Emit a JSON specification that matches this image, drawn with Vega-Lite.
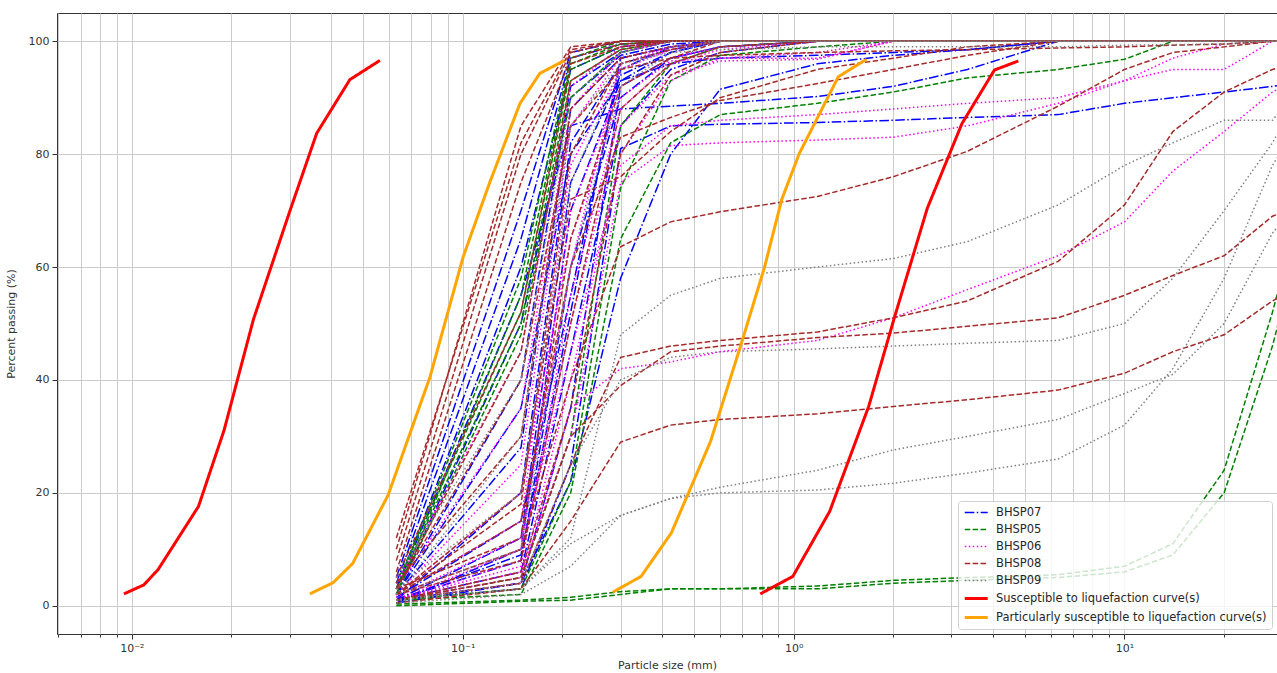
{
"$schema": "https://vega.github.io/schema/vega-lite/v6.json",
"width": 1220, "height": 621,
"autosize": {"type": "none"},
"padding": {"left": 57, "top": 13, "right": 0, "bottom": 39},
"background": "white",
"config": {
 "view": {"stroke": "#333333", "strokeWidth": 1},
 "axis": {"domain": false, "grid": true, "gridColor": "#cccccc", "gridWidth": 1, "tickColor": "#333333", "labelFont": "DejaVu Sans", "labelFontSize": 11, "labelColor": "#333333", "titleFont": "DejaVu Sans", "titleFontSize": 11, "titleFontWeight": "normal", "titleColor": "#333333"},
 "legend": {"orient": "bottom-right", "offset": 5, "fillColor": "rgba(255,255,255,0.8)", "strokeColor": "#d0d0d0", "cornerRadius": 3, "padding": 5, "labelFont": "DejaVu Sans", "labelFontSize": 11.5, "labelColor": "#262626", "labelLimit": 400, "rowPadding": 5}
},
"datasets": {
"samples": [
{"s":"b1","g":"BHSP07","x":0.063,"y":5},{"s":"b1","g":"BHSP07","x":0.15,"y":70},{"s":"b1","g":"BHSP07","x":0.212,"y":98},{"s":"b1","g":"BHSP07","x":0.3,"y":100},{"s":"b1","g":"BHSP07","x":37.5,"y":100},
{"s":"b2","g":"BHSP07","x":0.063,"y":4},{"s":"b2","g":"BHSP07","x":0.15,"y":65},{"s":"b2","g":"BHSP07","x":0.212,"y":97},{"s":"b2","g":"BHSP07","x":0.3,"y":99.5},{"s":"b2","g":"BHSP07","x":0.425,"y":100},{"s":"b2","g":"BHSP07","x":37.5,"y":100},
{"s":"b3","g":"BHSP07","x":0.063,"y":3},{"s":"b3","g":"BHSP07","x":0.15,"y":60},{"s":"b3","g":"BHSP07","x":0.212,"y":95},{"s":"b3","g":"BHSP07","x":0.3,"y":99},{"s":"b3","g":"BHSP07","x":0.425,"y":100},{"s":"b3","g":"BHSP07","x":37.5,"y":100},
{"s":"b4","g":"BHSP07","x":0.063,"y":2},{"s":"b4","g":"BHSP07","x":0.15,"y":40},{"s":"b4","g":"BHSP07","x":0.212,"y":92},{"s":"b4","g":"BHSP07","x":0.3,"y":98},{"s":"b4","g":"BHSP07","x":0.425,"y":100},{"s":"b4","g":"BHSP07","x":37.5,"y":100},
{"s":"b5","g":"BHSP07","x":0.063,"y":2},{"s":"b5","g":"BHSP07","x":0.15,"y":28},{"s":"b5","g":"BHSP07","x":0.212,"y":88},{"s":"b5","g":"BHSP07","x":0.3,"y":97},{"s":"b5","g":"BHSP07","x":0.425,"y":99},{"s":"b5","g":"BHSP07","x":0.6,"y":100},{"s":"b5","g":"BHSP07","x":37.5,"y":100},
{"s":"b6","g":"BHSP07","x":0.063,"y":1},{"s":"b6","g":"BHSP07","x":0.15,"y":20},{"s":"b6","g":"BHSP07","x":0.212,"y":82},{"s":"b6","g":"BHSP07","x":0.3,"y":96},{"s":"b6","g":"BHSP07","x":0.425,"y":98.5},{"s":"b6","g":"BHSP07","x":0.6,"y":100},{"s":"b6","g":"BHSP07","x":37.5,"y":100},
{"s":"b7","g":"BHSP07","x":0.063,"y":1},{"s":"b7","g":"BHSP07","x":0.15,"y":12},{"s":"b7","g":"BHSP07","x":0.212,"y":75},{"s":"b7","g":"BHSP07","x":0.3,"y":94},{"s":"b7","g":"BHSP07","x":0.425,"y":98},{"s":"b7","g":"BHSP07","x":0.6,"y":100},{"s":"b7","g":"BHSP07","x":37.5,"y":100},
{"s":"b8","g":"BHSP07","x":0.063,"y":1},{"s":"b8","g":"BHSP07","x":0.15,"y":8},{"s":"b8","g":"BHSP07","x":0.212,"y":60},{"s":"b8","g":"BHSP07","x":0.3,"y":90},{"s":"b8","g":"BHSP07","x":0.425,"y":97},{"s":"b8","g":"BHSP07","x":0.6,"y":99},{"s":"b8","g":"BHSP07","x":1.18,"y":100},{"s":"b8","g":"BHSP07","x":37.5,"y":100},
{"s":"b9","g":"BHSP07","x":0.063,"y":0.5},{"s":"b9","g":"BHSP07","x":0.15,"y":10},{"s":"b9","g":"BHSP07","x":0.212,"y":70},{"s":"b9","g":"BHSP07","x":0.3,"y":93},{"s":"b9","g":"BHSP07","x":0.425,"y":98},{"s":"b9","g":"BHSP07","x":0.6,"y":100},{"s":"b9","g":"BHSP07","x":37.5,"y":100},
{"s":"b10","g":"BHSP07","x":0.063,"y":1},{"s":"b10","g":"BHSP07","x":0.15,"y":6},{"s":"b10","g":"BHSP07","x":0.212,"y":45},{"s":"b10","g":"BHSP07","x":0.3,"y":85},{"s":"b10","g":"BHSP07","x":0.425,"y":95},{"s":"b10","g":"BHSP07","x":0.6,"y":98},{"s":"b10","g":"BHSP07","x":1.18,"y":100},{"s":"b10","g":"BHSP07","x":37.5,"y":100},
{"s":"b11","g":"BHSP07","x":0.063,"y":0.5},{"s":"b11","g":"BHSP07","x":0.15,"y":4},{"s":"b11","g":"BHSP07","x":0.212,"y":35},{"s":"b11","g":"BHSP07","x":0.3,"y":92},{"s":"b11","g":"BHSP07","x":0.425,"y":97},{"s":"b11","g":"BHSP07","x":0.6,"y":99},{"s":"b11","g":"BHSP07","x":1.18,"y":100},{"s":"b11","g":"BHSP07","x":37.5,"y":100},
{"s":"b12","g":"BHSP07","x":0.063,"y":1},{"s":"b12","g":"BHSP07","x":0.15,"y":3},{"s":"b12","g":"BHSP07","x":0.212,"y":25},{"s":"b12","g":"BHSP07","x":0.3,"y":81},{"s":"b12","g":"BHSP07","x":0.425,"y":85},{"s":"b12","g":"BHSP07","x":0.6,"y":85.3},{"s":"b12","g":"BHSP07","x":1.18,"y":85.6},{"s":"b12","g":"BHSP07","x":2,"y":86},{"s":"b12","g":"BHSP07","x":3.35,"y":86.5},{"s":"b12","g":"BHSP07","x":6.3,"y":87},{"s":"b12","g":"BHSP07","x":10,"y":89},{"s":"b12","g":"BHSP07","x":14,"y":90},{"s":"b12","g":"BHSP07","x":20,"y":91},{"s":"b12","g":"BHSP07","x":28,"y":92},{"s":"b12","g":"BHSP07","x":37.5,"y":93},
{"s":"b13","g":"BHSP07","x":0.063,"y":3},{"s":"b13","g":"BHSP07","x":0.15,"y":55},{"s":"b13","g":"BHSP07","x":0.212,"y":85},{"s":"b13","g":"BHSP07","x":0.3,"y":88},{"s":"b13","g":"BHSP07","x":0.425,"y":88.5},{"s":"b13","g":"BHSP07","x":0.6,"y":89},{"s":"b13","g":"BHSP07","x":1.18,"y":90.2},{"s":"b13","g":"BHSP07","x":2,"y":92},{"s":"b13","g":"BHSP07","x":3.35,"y":95},{"s":"b13","g":"BHSP07","x":6.3,"y":100},{"s":"b13","g":"BHSP07","x":37.5,"y":100},
{"s":"b14","g":"BHSP07","x":0.063,"y":1},{"s":"b14","g":"BHSP07","x":0.15,"y":4},{"s":"b14","g":"BHSP07","x":0.212,"y":22},{"s":"b14","g":"BHSP07","x":0.3,"y":58},{"s":"b14","g":"BHSP07","x":0.425,"y":80},{"s":"b14","g":"BHSP07","x":0.6,"y":91.5},{"s":"b14","g":"BHSP07","x":1.18,"y":96},{"s":"b14","g":"BHSP07","x":2,"y":97.5},{"s":"b14","g":"BHSP07","x":3.35,"y":98.5},{"s":"b14","g":"BHSP07","x":6.3,"y":100},{"s":"b14","g":"BHSP07","x":37.5,"y":100},
{"s":"b15","g":"BHSP07","x":0.063,"y":2},{"s":"b15","g":"BHSP07","x":0.15,"y":50},{"s":"b15","g":"BHSP07","x":0.212,"y":90},{"s":"b15","g":"BHSP07","x":0.3,"y":97.5},{"s":"b15","g":"BHSP07","x":0.425,"y":99.5},{"s":"b15","g":"BHSP07","x":0.6,"y":100},{"s":"b15","g":"BHSP07","x":37.5,"y":100},
{"s":"b16","g":"BHSP07","x":0.063,"y":1.5},{"s":"b16","g":"BHSP07","x":0.15,"y":15},{"s":"b16","g":"BHSP07","x":0.212,"y":55},{"s":"b16","g":"BHSP07","x":0.3,"y":95},{"s":"b16","g":"BHSP07","x":0.425,"y":99},{"s":"b16","g":"BHSP07","x":0.6,"y":100},{"s":"b16","g":"BHSP07","x":37.5,"y":100},
{"s":"b17","g":"BHSP07","x":0.063,"y":2},{"s":"b17","g":"BHSP07","x":0.15,"y":35},{"s":"b17","g":"BHSP07","x":0.212,"y":80},{"s":"b17","g":"BHSP07","x":0.3,"y":93},{"s":"b17","g":"BHSP07","x":0.425,"y":96},{"s":"b17","g":"BHSP07","x":0.6,"y":97},{"s":"b17","g":"BHSP07","x":1.18,"y":97.5},{"s":"b17","g":"BHSP07","x":2,"y":98},{"s":"b17","g":"BHSP07","x":3.35,"y":98.5},{"s":"b17","g":"BHSP07","x":6.3,"y":100},{"s":"b17","g":"BHSP07","x":37.5,"y":100},
{"s":"b18","g":"BHSP07","x":0.063,"y":1},{"s":"b18","g":"BHSP07","x":0.15,"y":9},{"s":"b18","g":"BHSP07","x":0.212,"y":52},{"s":"b18","g":"BHSP07","x":0.3,"y":97},{"s":"b18","g":"BHSP07","x":0.425,"y":99},{"s":"b18","g":"BHSP07","x":0.6,"y":100},{"s":"b18","g":"BHSP07","x":37.5,"y":100},
{"s":"g1","g":"BHSP05","x":0.063,"y":3},{"s":"g1","g":"BHSP05","x":0.15,"y":58},{"s":"g1","g":"BHSP05","x":0.212,"y":97},{"s":"g1","g":"BHSP05","x":0.3,"y":100},{"s":"g1","g":"BHSP05","x":37.5,"y":100},
{"s":"g2","g":"BHSP05","x":0.063,"y":2},{"s":"g2","g":"BHSP05","x":0.15,"y":55},{"s":"g2","g":"BHSP05","x":0.212,"y":96},{"s":"g2","g":"BHSP05","x":0.3,"y":99.5},{"s":"g2","g":"BHSP05","x":0.425,"y":100},{"s":"g2","g":"BHSP05","x":37.5,"y":100},
{"s":"g3","g":"BHSP05","x":0.063,"y":4},{"s":"g3","g":"BHSP05","x":0.15,"y":52},{"s":"g3","g":"BHSP05","x":0.212,"y":95},{"s":"g3","g":"BHSP05","x":0.3,"y":99},{"s":"g3","g":"BHSP05","x":0.425,"y":100},{"s":"g3","g":"BHSP05","x":37.5,"y":100},
{"s":"g4","g":"BHSP05","x":0.063,"y":3},{"s":"g4","g":"BHSP05","x":0.15,"y":50},{"s":"g4","g":"BHSP05","x":0.212,"y":93},{"s":"g4","g":"BHSP05","x":0.3,"y":98.5},{"s":"g4","g":"BHSP05","x":0.425,"y":100},{"s":"g4","g":"BHSP05","x":37.5,"y":100},
{"s":"g5","g":"BHSP05","x":0.063,"y":2},{"s":"g5","g":"BHSP05","x":0.15,"y":48},{"s":"g5","g":"BHSP05","x":0.212,"y":90},{"s":"g5","g":"BHSP05","x":0.3,"y":98},{"s":"g5","g":"BHSP05","x":0.425,"y":100},{"s":"g5","g":"BHSP05","x":37.5,"y":100},
{"s":"g6","g":"BHSP05","x":0.063,"y":1},{"s":"g6","g":"BHSP05","x":0.15,"y":5},{"s":"g6","g":"BHSP05","x":0.212,"y":30},{"s":"g6","g":"BHSP05","x":0.3,"y":85},{"s":"g6","g":"BHSP05","x":0.425,"y":96},{"s":"g6","g":"BHSP05","x":0.6,"y":99},{"s":"g6","g":"BHSP05","x":1.18,"y":100},{"s":"g6","g":"BHSP05","x":37.5,"y":100},
{"s":"g7","g":"BHSP05","x":0.063,"y":1},{"s":"g7","g":"BHSP05","x":0.15,"y":3},{"s":"g7","g":"BHSP05","x":0.212,"y":22},{"s":"g7","g":"BHSP05","x":0.3,"y":74},{"s":"g7","g":"BHSP05","x":0.425,"y":93},{"s":"g7","g":"BHSP05","x":0.6,"y":97.5},{"s":"g7","g":"BHSP05","x":1.18,"y":99},{"s":"g7","g":"BHSP05","x":2,"y":100},{"s":"g7","g":"BHSP05","x":37.5,"y":100},
{"s":"g8","g":"BHSP05","x":0.063,"y":1},{"s":"g8","g":"BHSP05","x":0.15,"y":2},{"s":"g8","g":"BHSP05","x":0.212,"y":20},{"s":"g8","g":"BHSP05","x":0.3,"y":65},{"s":"g8","g":"BHSP05","x":0.425,"y":82},{"s":"g8","g":"BHSP05","x":0.6,"y":87},{"s":"g8","g":"BHSP05","x":1.18,"y":89},{"s":"g8","g":"BHSP05","x":2,"y":91},{"s":"g8","g":"BHSP05","x":3.35,"y":93.5},{"s":"g8","g":"BHSP05","x":6.3,"y":95},{"s":"g8","g":"BHSP05","x":10,"y":96.8},{"s":"g8","g":"BHSP05","x":14,"y":100},{"s":"g8","g":"BHSP05","x":37.5,"y":100},
{"s":"g9","g":"BHSP05","x":0.063,"y":0.3},{"s":"g9","g":"BHSP05","x":0.15,"y":1},{"s":"g9","g":"BHSP05","x":0.212,"y":1.5},{"s":"g9","g":"BHSP05","x":0.3,"y":2.5},{"s":"g9","g":"BHSP05","x":0.425,"y":3},{"s":"g9","g":"BHSP05","x":0.6,"y":3},{"s":"g9","g":"BHSP05","x":1.18,"y":3.5},{"s":"g9","g":"BHSP05","x":2,"y":4.5},{"s":"g9","g":"BHSP05","x":3.35,"y":5},{"s":"g9","g":"BHSP05","x":6.3,"y":5.5},{"s":"g9","g":"BHSP05","x":10,"y":7},{"s":"g9","g":"BHSP05","x":14,"y":11},{"s":"g9","g":"BHSP05","x":20,"y":24},{"s":"g9","g":"BHSP05","x":28,"y":52},{"s":"g9","g":"BHSP05","x":37.5,"y":80},
{"s":"g10","g":"BHSP05","x":0.063,"y":0},{"s":"g10","g":"BHSP05","x":0.15,"y":0.8},{"s":"g10","g":"BHSP05","x":0.212,"y":1},{"s":"g10","g":"BHSP05","x":0.3,"y":2},{"s":"g10","g":"BHSP05","x":0.425,"y":3},{"s":"g10","g":"BHSP05","x":0.6,"y":3},{"s":"g10","g":"BHSP05","x":1.18,"y":3},{"s":"g10","g":"BHSP05","x":2,"y":4},{"s":"g10","g":"BHSP05","x":3.35,"y":4.5},{"s":"g10","g":"BHSP05","x":6.3,"y":5},{"s":"g10","g":"BHSP05","x":10,"y":6},{"s":"g10","g":"BHSP05","x":14,"y":9},{"s":"g10","g":"BHSP05","x":20,"y":20},{"s":"g10","g":"BHSP05","x":28,"y":46},{"s":"g10","g":"BHSP05","x":37.5,"y":75},
{"s":"m1","g":"BHSP06","x":0.063,"y":4},{"s":"m1","g":"BHSP06","x":0.15,"y":45},{"s":"m1","g":"BHSP06","x":0.212,"y":92},{"s":"m1","g":"BHSP06","x":0.3,"y":99},{"s":"m1","g":"BHSP06","x":0.425,"y":100},{"s":"m1","g":"BHSP06","x":37.5,"y":100},
{"s":"m2","g":"BHSP06","x":0.063,"y":3},{"s":"m2","g":"BHSP06","x":0.15,"y":35},{"s":"m2","g":"BHSP06","x":0.212,"y":88},{"s":"m2","g":"BHSP06","x":0.3,"y":98},{"s":"m2","g":"BHSP06","x":0.425,"y":100},{"s":"m2","g":"BHSP06","x":37.5,"y":100},
{"s":"m3","g":"BHSP06","x":0.063,"y":2},{"s":"m3","g":"BHSP06","x":0.15,"y":25},{"s":"m3","g":"BHSP06","x":0.212,"y":85},{"s":"m3","g":"BHSP06","x":0.3,"y":97},{"s":"m3","g":"BHSP06","x":0.425,"y":99},{"s":"m3","g":"BHSP06","x":0.6,"y":100},{"s":"m3","g":"BHSP06","x":37.5,"y":100},
{"s":"m4","g":"BHSP06","x":0.063,"y":2},{"s":"m4","g":"BHSP06","x":0.15,"y":15},{"s":"m4","g":"BHSP06","x":0.212,"y":78},{"s":"m4","g":"BHSP06","x":0.3,"y":95},{"s":"m4","g":"BHSP06","x":0.425,"y":98.5},{"s":"m4","g":"BHSP06","x":0.6,"y":100},{"s":"m4","g":"BHSP06","x":37.5,"y":100},
{"s":"m5","g":"BHSP06","x":0.063,"y":1},{"s":"m5","g":"BHSP06","x":0.15,"y":10},{"s":"m5","g":"BHSP06","x":0.212,"y":70},{"s":"m5","g":"BHSP06","x":0.3,"y":92},{"s":"m5","g":"BHSP06","x":0.425,"y":97},{"s":"m5","g":"BHSP06","x":0.6,"y":99},{"s":"m5","g":"BHSP06","x":1.18,"y":100},{"s":"m5","g":"BHSP06","x":37.5,"y":100},
{"s":"m6","g":"BHSP06","x":0.063,"y":1},{"s":"m6","g":"BHSP06","x":0.15,"y":7},{"s":"m6","g":"BHSP06","x":0.212,"y":55},{"s":"m6","g":"BHSP06","x":0.3,"y":88},{"s":"m6","g":"BHSP06","x":0.425,"y":96},{"s":"m6","g":"BHSP06","x":0.6,"y":98.5},{"s":"m6","g":"BHSP06","x":1.18,"y":100},{"s":"m6","g":"BHSP06","x":37.5,"y":100},
{"s":"m7","g":"BHSP06","x":0.063,"y":1},{"s":"m7","g":"BHSP06","x":0.15,"y":5},{"s":"m7","g":"BHSP06","x":0.212,"y":40},{"s":"m7","g":"BHSP06","x":0.3,"y":80},{"s":"m7","g":"BHSP06","x":0.425,"y":93},{"s":"m7","g":"BHSP06","x":0.6,"y":97},{"s":"m7","g":"BHSP06","x":1.18,"y":98},{"s":"m7","g":"BHSP06","x":2,"y":100},{"s":"m7","g":"BHSP06","x":37.5,"y":100},
{"s":"m8","g":"BHSP06","x":0.063,"y":2},{"s":"m8","g":"BHSP06","x":0.15,"y":20},{"s":"m8","g":"BHSP06","x":0.212,"y":65},{"s":"m8","g":"BHSP06","x":0.3,"y":90},{"s":"m8","g":"BHSP06","x":0.425,"y":96.5},{"s":"m8","g":"BHSP06","x":0.6,"y":97},{"s":"m8","g":"BHSP06","x":1.18,"y":97},{"s":"m8","g":"BHSP06","x":2,"y":100},{"s":"m8","g":"BHSP06","x":37.5,"y":100},
{"s":"m9","g":"BHSP06","x":0.063,"y":1},{"s":"m9","g":"BHSP06","x":0.15,"y":4},{"s":"m9","g":"BHSP06","x":0.212,"y":35},{"s":"m9","g":"BHSP06","x":0.3,"y":42},{"s":"m9","g":"BHSP06","x":0.425,"y":43.2},{"s":"m9","g":"BHSP06","x":0.6,"y":45},{"s":"m9","g":"BHSP06","x":1.18,"y":47},{"s":"m9","g":"BHSP06","x":2,"y":51},{"s":"m9","g":"BHSP06","x":3.35,"y":56},{"s":"m9","g":"BHSP06","x":6.3,"y":62},{"s":"m9","g":"BHSP06","x":10,"y":68},{"s":"m9","g":"BHSP06","x":14,"y":77},{"s":"m9","g":"BHSP06","x":20,"y":84},{"s":"m9","g":"BHSP06","x":28,"y":91},{"s":"m9","g":"BHSP06","x":37.5,"y":95},
{"s":"m10","g":"BHSP06","x":0.063,"y":1},{"s":"m10","g":"BHSP06","x":0.15,"y":6},{"s":"m10","g":"BHSP06","x":0.212,"y":30},{"s":"m10","g":"BHSP06","x":0.3,"y":75},{"s":"m10","g":"BHSP06","x":0.425,"y":81.5},{"s":"m10","g":"BHSP06","x":0.6,"y":82},{"s":"m10","g":"BHSP06","x":1.18,"y":82.5},{"s":"m10","g":"BHSP06","x":2,"y":83},{"s":"m10","g":"BHSP06","x":3.35,"y":85},{"s":"m10","g":"BHSP06","x":6.3,"y":89},{"s":"m10","g":"BHSP06","x":10,"y":93},{"s":"m10","g":"BHSP06","x":14,"y":97},{"s":"m10","g":"BHSP06","x":20,"y":99.5},{"s":"m10","g":"BHSP06","x":28,"y":100},{"s":"m10","g":"BHSP06","x":37.5,"y":100},
{"s":"m11","g":"BHSP06","x":0.063,"y":2},{"s":"m11","g":"BHSP06","x":0.15,"y":10},{"s":"m11","g":"BHSP06","x":0.212,"y":45},{"s":"m11","g":"BHSP06","x":0.3,"y":78},{"s":"m11","g":"BHSP06","x":0.425,"y":85},{"s":"m11","g":"BHSP06","x":0.6,"y":86},{"s":"m11","g":"BHSP06","x":1.18,"y":87},{"s":"m11","g":"BHSP06","x":2,"y":88},{"s":"m11","g":"BHSP06","x":3.35,"y":89},{"s":"m11","g":"BHSP06","x":6.3,"y":90},{"s":"m11","g":"BHSP06","x":10,"y":93},{"s":"m11","g":"BHSP06","x":14,"y":95},{"s":"m11","g":"BHSP06","x":20,"y":95},{"s":"m11","g":"BHSP06","x":28,"y":100},{"s":"m11","g":"BHSP06","x":37.5,"y":100},
{"s":"m12","g":"BHSP06","x":0.063,"y":1},{"s":"m12","g":"BHSP06","x":0.15,"y":8},{"s":"m12","g":"BHSP06","x":0.212,"y":50},{"s":"m12","g":"BHSP06","x":0.3,"y":85},{"s":"m12","g":"BHSP06","x":0.425,"y":94},{"s":"m12","g":"BHSP06","x":0.6,"y":96.5},{"s":"m12","g":"BHSP06","x":1.18,"y":96.8},{"s":"m12","g":"BHSP06","x":2,"y":100},{"s":"m12","g":"BHSP06","x":37.5,"y":100},
{"s":"m13","g":"BHSP06","x":0.063,"y":1.5},{"s":"m13","g":"BHSP06","x":0.15,"y":12},{"s":"m13","g":"BHSP06","x":0.212,"y":60},{"s":"m13","g":"BHSP06","x":0.3,"y":96},{"s":"m13","g":"BHSP06","x":0.425,"y":99},{"s":"m13","g":"BHSP06","x":0.6,"y":100},{"s":"m13","g":"BHSP06","x":37.5,"y":100},
{"s":"r1","g":"BHSP08","x":0.063,"y":10},{"s":"r1","g":"BHSP08","x":0.15,"y":85},{"s":"r1","g":"BHSP08","x":0.212,"y":99},{"s":"r1","g":"BHSP08","x":0.3,"y":100},{"s":"r1","g":"BHSP08","x":37.5,"y":100},
{"s":"r2","g":"BHSP08","x":0.063,"y":8},{"s":"r2","g":"BHSP08","x":0.15,"y":80},{"s":"r2","g":"BHSP08","x":0.212,"y":98},{"s":"r2","g":"BHSP08","x":0.3,"y":100},{"s":"r2","g":"BHSP08","x":37.5,"y":100},
{"s":"r3","g":"BHSP08","x":0.063,"y":6},{"s":"r3","g":"BHSP08","x":0.15,"y":75},{"s":"r3","g":"BHSP08","x":0.212,"y":97},{"s":"r3","g":"BHSP08","x":0.3,"y":99.5},{"s":"r3","g":"BHSP08","x":0.425,"y":100},{"s":"r3","g":"BHSP08","x":37.5,"y":100},
{"s":"r4","g":"BHSP08","x":0.063,"y":5},{"s":"r4","g":"BHSP08","x":0.15,"y":52},{"s":"r4","g":"BHSP08","x":0.212,"y":96},{"s":"r4","g":"BHSP08","x":0.3,"y":99},{"s":"r4","g":"BHSP08","x":0.425,"y":100},{"s":"r4","g":"BHSP08","x":37.5,"y":100},
{"s":"r5","g":"BHSP08","x":0.063,"y":3},{"s":"r5","g":"BHSP08","x":0.15,"y":45},{"s":"r5","g":"BHSP08","x":0.212,"y":93},{"s":"r5","g":"BHSP08","x":0.3,"y":98.5},{"s":"r5","g":"BHSP08","x":0.425,"y":100},{"s":"r5","g":"BHSP08","x":37.5,"y":100},
{"s":"r6","g":"BHSP08","x":0.063,"y":4},{"s":"r6","g":"BHSP08","x":0.15,"y":30},{"s":"r6","g":"BHSP08","x":0.212,"y":88},{"s":"r6","g":"BHSP08","x":0.3,"y":97},{"s":"r6","g":"BHSP08","x":0.425,"y":99},{"s":"r6","g":"BHSP08","x":0.6,"y":100},{"s":"r6","g":"BHSP08","x":37.5,"y":100},
{"s":"r7","g":"BHSP08","x":0.063,"y":2},{"s":"r7","g":"BHSP08","x":0.15,"y":18},{"s":"r7","g":"BHSP08","x":0.212,"y":80},{"s":"r7","g":"BHSP08","x":0.3,"y":96},{"s":"r7","g":"BHSP08","x":0.425,"y":98.5},{"s":"r7","g":"BHSP08","x":0.6,"y":100},{"s":"r7","g":"BHSP08","x":37.5,"y":100},
{"s":"r8","g":"BHSP08","x":0.063,"y":3},{"s":"r8","g":"BHSP08","x":0.15,"y":12},{"s":"r8","g":"BHSP08","x":0.212,"y":65},{"s":"r8","g":"BHSP08","x":0.3,"y":92},{"s":"r8","g":"BHSP08","x":0.425,"y":97},{"s":"r8","g":"BHSP08","x":0.6,"y":100},{"s":"r8","g":"BHSP08","x":37.5,"y":100},
{"s":"r9","g":"BHSP08","x":0.063,"y":2},{"s":"r9","g":"BHSP08","x":0.15,"y":8},{"s":"r9","g":"BHSP08","x":0.212,"y":50},{"s":"r9","g":"BHSP08","x":0.3,"y":88},{"s":"r9","g":"BHSP08","x":0.425,"y":96},{"s":"r9","g":"BHSP08","x":0.6,"y":99},{"s":"r9","g":"BHSP08","x":1.18,"y":100},{"s":"r9","g":"BHSP08","x":37.5,"y":100},
{"s":"r10","g":"BHSP08","x":0.063,"y":1},{"s":"r10","g":"BHSP08","x":0.15,"y":6},{"s":"r10","g":"BHSP08","x":0.212,"y":35},{"s":"r10","g":"BHSP08","x":0.3,"y":80},{"s":"r10","g":"BHSP08","x":0.425,"y":94},{"s":"r10","g":"BHSP08","x":0.6,"y":98},{"s":"r10","g":"BHSP08","x":1.18,"y":100},{"s":"r10","g":"BHSP08","x":37.5,"y":100},
{"s":"r11","g":"BHSP08","x":0.063,"y":2},{"s":"r11","g":"BHSP08","x":0.15,"y":15},{"s":"r11","g":"BHSP08","x":0.212,"y":60},{"s":"r11","g":"BHSP08","x":0.3,"y":83},{"s":"r11","g":"BHSP08","x":0.425,"y":86.5},{"s":"r11","g":"BHSP08","x":0.6,"y":89.5},{"s":"r11","g":"BHSP08","x":1.18,"y":92.5},{"s":"r11","g":"BHSP08","x":2,"y":95},{"s":"r11","g":"BHSP08","x":3.35,"y":97.5},{"s":"r11","g":"BHSP08","x":6.3,"y":100},{"s":"r11","g":"BHSP08","x":37.5,"y":100},
{"s":"r12","g":"BHSP08","x":0.063,"y":2},{"s":"r12","g":"BHSP08","x":0.15,"y":10},{"s":"r12","g":"BHSP08","x":0.212,"y":40},{"s":"r12","g":"BHSP08","x":0.3,"y":63.6},{"s":"r12","g":"BHSP08","x":0.425,"y":68},{"s":"r12","g":"BHSP08","x":0.6,"y":69.8},{"s":"r12","g":"BHSP08","x":1.18,"y":72.5},{"s":"r12","g":"BHSP08","x":2,"y":76},{"s":"r12","g":"BHSP08","x":3.35,"y":80.5},{"s":"r12","g":"BHSP08","x":6.3,"y":88.5},{"s":"r12","g":"BHSP08","x":10,"y":95},{"s":"r12","g":"BHSP08","x":14,"y":98},{"s":"r12","g":"BHSP08","x":20,"y":99},{"s":"r12","g":"BHSP08","x":28,"y":100},{"s":"r12","g":"BHSP08","x":37.5,"y":100},
{"s":"r13","g":"BHSP08","x":0.063,"y":1},{"s":"r13","g":"BHSP08","x":0.15,"y":4},{"s":"r13","g":"BHSP08","x":0.212,"y":25},{"s":"r13","g":"BHSP08","x":0.3,"y":44},{"s":"r13","g":"BHSP08","x":0.425,"y":46},{"s":"r13","g":"BHSP08","x":0.6,"y":47},{"s":"r13","g":"BHSP08","x":1.18,"y":48.5},{"s":"r13","g":"BHSP08","x":2,"y":51},{"s":"r13","g":"BHSP08","x":3.35,"y":54},{"s":"r13","g":"BHSP08","x":6.3,"y":61},{"s":"r13","g":"BHSP08","x":10,"y":71},{"s":"r13","g":"BHSP08","x":14,"y":84},{"s":"r13","g":"BHSP08","x":20,"y":91},{"s":"r13","g":"BHSP08","x":28,"y":95},{"s":"r13","g":"BHSP08","x":37.5,"y":97},
{"s":"r14","g":"BHSP08","x":0.063,"y":1},{"s":"r14","g":"BHSP08","x":0.15,"y":5},{"s":"r14","g":"BHSP08","x":0.212,"y":30},{"s":"r14","g":"BHSP08","x":0.3,"y":39},{"s":"r14","g":"BHSP08","x":0.425,"y":45},{"s":"r14","g":"BHSP08","x":0.6,"y":46},{"s":"r14","g":"BHSP08","x":1.18,"y":47.5},{"s":"r14","g":"BHSP08","x":2,"y":48.3},{"s":"r14","g":"BHSP08","x":3.35,"y":49.5},{"s":"r14","g":"BHSP08","x":6.3,"y":51},{"s":"r14","g":"BHSP08","x":10,"y":55},{"s":"r14","g":"BHSP08","x":14,"y":58.5},{"s":"r14","g":"BHSP08","x":20,"y":62},{"s":"r14","g":"BHSP08","x":28,"y":69},{"s":"r14","g":"BHSP08","x":37.5,"y":72},
{"s":"r15","g":"BHSP08","x":0.063,"y":0.5},{"s":"r15","g":"BHSP08","x":0.15,"y":3},{"s":"r15","g":"BHSP08","x":0.212,"y":15},{"s":"r15","g":"BHSP08","x":0.3,"y":29},{"s":"r15","g":"BHSP08","x":0.425,"y":32},{"s":"r15","g":"BHSP08","x":0.6,"y":33},{"s":"r15","g":"BHSP08","x":1.18,"y":34},{"s":"r15","g":"BHSP08","x":2,"y":35.3},{"s":"r15","g":"BHSP08","x":3.35,"y":36.5},{"s":"r15","g":"BHSP08","x":6.3,"y":38.2},{"s":"r15","g":"BHSP08","x":10,"y":41.2},{"s":"r15","g":"BHSP08","x":14,"y":45},{"s":"r15","g":"BHSP08","x":20,"y":48},{"s":"r15","g":"BHSP08","x":28,"y":54},{"s":"r15","g":"BHSP08","x":37.5,"y":58},
{"s":"r16","g":"BHSP08","x":0.063,"y":12},{"s":"r16","g":"BHSP08","x":0.15,"y":82},{"s":"r16","g":"BHSP08","x":0.212,"y":98.5},{"s":"r16","g":"BHSP08","x":0.3,"y":100},{"s":"r16","g":"BHSP08","x":37.5,"y":100},
{"s":"r17","g":"BHSP08","x":0.063,"y":3},{"s":"r17","g":"BHSP08","x":0.15,"y":40},{"s":"r17","g":"BHSP08","x":0.212,"y":85},{"s":"r17","g":"BHSP08","x":0.3,"y":95},{"s":"r17","g":"BHSP08","x":0.425,"y":97},{"s":"r17","g":"BHSP08","x":0.6,"y":97.5},{"s":"r17","g":"BHSP08","x":1.18,"y":98},{"s":"r17","g":"BHSP08","x":2,"y":98.3},{"s":"r17","g":"BHSP08","x":3.35,"y":98.5},{"s":"r17","g":"BHSP08","x":6.3,"y":98.8},{"s":"r17","g":"BHSP08","x":10,"y":99},{"s":"r17","g":"BHSP08","x":14,"y":99.3},{"s":"r17","g":"BHSP08","x":20,"y":99.5},{"s":"r17","g":"BHSP08","x":28,"y":100},{"s":"r17","g":"BHSP08","x":37.5,"y":100},
{"s":"r18","g":"BHSP08","x":0.063,"y":2},{"s":"r18","g":"BHSP08","x":0.15,"y":20},{"s":"r18","g":"BHSP08","x":0.212,"y":72},{"s":"r18","g":"BHSP08","x":0.3,"y":76},{"s":"r18","g":"BHSP08","x":0.425,"y":84},{"s":"r18","g":"BHSP08","x":0.6,"y":90},{"s":"r18","g":"BHSP08","x":1.18,"y":95},{"s":"r18","g":"BHSP08","x":2,"y":97},{"s":"r18","g":"BHSP08","x":3.35,"y":99},{"s":"r18","g":"BHSP08","x":6.3,"y":100},{"s":"r18","g":"BHSP08","x":37.5,"y":100},
{"s":"n1","g":"BHSP09","x":0.063,"y":5},{"s":"n1","g":"BHSP09","x":0.15,"y":40},{"s":"n1","g":"BHSP09","x":0.212,"y":90},{"s":"n1","g":"BHSP09","x":0.3,"y":98},{"s":"n1","g":"BHSP09","x":0.425,"y":100},{"s":"n1","g":"BHSP09","x":37.5,"y":100},
{"s":"n2","g":"BHSP09","x":0.063,"y":3},{"s":"n2","g":"BHSP09","x":0.15,"y":20},{"s":"n2","g":"BHSP09","x":0.212,"y":75},{"s":"n2","g":"BHSP09","x":0.3,"y":95},{"s":"n2","g":"BHSP09","x":0.425,"y":99},{"s":"n2","g":"BHSP09","x":0.6,"y":100},{"s":"n2","g":"BHSP09","x":37.5,"y":100},
{"s":"n3","g":"BHSP09","x":0.063,"y":2},{"s":"n3","g":"BHSP09","x":0.15,"y":10},{"s":"n3","g":"BHSP09","x":0.212,"y":60},{"s":"n3","g":"BHSP09","x":0.3,"y":92},{"s":"n3","g":"BHSP09","x":0.425,"y":98},{"s":"n3","g":"BHSP09","x":0.6,"y":100},{"s":"n3","g":"BHSP09","x":37.5,"y":100},
{"s":"n4","g":"BHSP09","x":0.063,"y":0.5},{"s":"n4","g":"BHSP09","x":0.15,"y":2},{"s":"n4","g":"BHSP09","x":0.212,"y":7},{"s":"n4","g":"BHSP09","x":0.3,"y":16},{"s":"n4","g":"BHSP09","x":0.425,"y":19},{"s":"n4","g":"BHSP09","x":0.6,"y":20},{"s":"n4","g":"BHSP09","x":1.18,"y":20.5},{"s":"n4","g":"BHSP09","x":2,"y":21.7},{"s":"n4","g":"BHSP09","x":3.35,"y":23.5},{"s":"n4","g":"BHSP09","x":6.3,"y":26},{"s":"n4","g":"BHSP09","x":10,"y":32},{"s":"n4","g":"BHSP09","x":14,"y":42},{"s":"n4","g":"BHSP09","x":20,"y":58},{"s":"n4","g":"BHSP09","x":28,"y":78},{"s":"n4","g":"BHSP09","x":37.5,"y":90},
{"s":"n5","g":"BHSP09","x":0.063,"y":1},{"s":"n5","g":"BHSP09","x":0.15,"y":3},{"s":"n5","g":"BHSP09","x":0.212,"y":11},{"s":"n5","g":"BHSP09","x":0.3,"y":16},{"s":"n5","g":"BHSP09","x":0.425,"y":19},{"s":"n5","g":"BHSP09","x":0.6,"y":21},{"s":"n5","g":"BHSP09","x":1.18,"y":24},{"s":"n5","g":"BHSP09","x":2,"y":27.6},{"s":"n5","g":"BHSP09","x":3.35,"y":30},{"s":"n5","g":"BHSP09","x":6.3,"y":33},{"s":"n5","g":"BHSP09","x":10,"y":37.6},{"s":"n5","g":"BHSP09","x":14,"y":41},{"s":"n5","g":"BHSP09","x":20,"y":50},{"s":"n5","g":"BHSP09","x":28,"y":66},{"s":"n5","g":"BHSP09","x":37.5,"y":75},
{"s":"n6","g":"BHSP09","x":0.063,"y":1},{"s":"n6","g":"BHSP09","x":0.15,"y":3},{"s":"n6","g":"BHSP09","x":0.212,"y":12},{"s":"n6","g":"BHSP09","x":0.3,"y":48},{"s":"n6","g":"BHSP09","x":0.425,"y":55},{"s":"n6","g":"BHSP09","x":0.6,"y":58},{"s":"n6","g":"BHSP09","x":1.18,"y":60},{"s":"n6","g":"BHSP09","x":2,"y":61.5},{"s":"n6","g":"BHSP09","x":3.35,"y":64.5},{"s":"n6","g":"BHSP09","x":6.3,"y":71},{"s":"n6","g":"BHSP09","x":10,"y":78},{"s":"n6","g":"BHSP09","x":14,"y":82},{"s":"n6","g":"BHSP09","x":20,"y":86},{"s":"n6","g":"BHSP09","x":28,"y":86},{"s":"n6","g":"BHSP09","x":37.5,"y":95},
{"s":"n7","g":"BHSP09","x":0.063,"y":1},{"s":"n7","g":"BHSP09","x":0.15,"y":4},{"s":"n7","g":"BHSP09","x":0.212,"y":25},{"s":"n7","g":"BHSP09","x":0.3,"y":40},{"s":"n7","g":"BHSP09","x":0.425,"y":44},{"s":"n7","g":"BHSP09","x":0.6,"y":45},{"s":"n7","g":"BHSP09","x":1.18,"y":45.5},{"s":"n7","g":"BHSP09","x":2,"y":46},{"s":"n7","g":"BHSP09","x":3.35,"y":46.5},{"s":"n7","g":"BHSP09","x":6.3,"y":47},{"s":"n7","g":"BHSP09","x":10,"y":50},{"s":"n7","g":"BHSP09","x":14,"y":58},{"s":"n7","g":"BHSP09","x":20,"y":70},{"s":"n7","g":"BHSP09","x":28,"y":82},{"s":"n7","g":"BHSP09","x":37.5,"y":95},
{"s":"n8","g":"BHSP09","x":0.063,"y":2},{"s":"n8","g":"BHSP09","x":0.15,"y":30},{"s":"n8","g":"BHSP09","x":0.212,"y":85},{"s":"n8","g":"BHSP09","x":0.3,"y":96},{"s":"n8","g":"BHSP09","x":0.425,"y":98},{"s":"n8","g":"BHSP09","x":0.6,"y":98.5},{"s":"n8","g":"BHSP09","x":1.18,"y":99},{"s":"n8","g":"BHSP09","x":6.3,"y":99},{"s":"n8","g":"BHSP09","x":10,"y":99.3},{"s":"n8","g":"BHSP09","x":20,"y":99.5},{"s":"n8","g":"BHSP09","x":28,"y":100},{"s":"n8","g":"BHSP09","x":37.5,"y":100}
],
"curves": [
{"s":"red1","g":"Susceptible to liquefaction curve(s)","x":0.00946,"y":2.1},{"s":"red1","g":"Susceptible to liquefaction curve(s)","x":0.01087,"y":3.7},{"s":"red1","g":"Susceptible to liquefaction curve(s)","x":0.012,"y":6.4},{"s":"red1","g":"Susceptible to liquefaction curve(s)","x":0.0159,"y":17.6},{"s":"red1","g":"Susceptible to liquefaction curve(s)","x":0.019,"y":31.1},{"s":"red1","g":"Susceptible to liquefaction curve(s)","x":0.0233,"y":50.7},{"s":"red1","g":"Susceptible to liquefaction curve(s)","x":0.0301,"y":70.1},{"s":"red1","g":"Susceptible to liquefaction curve(s)","x":0.0362,"y":83.7},{"s":"red1","g":"Susceptible to liquefaction curve(s)","x":0.0456,"y":93.2},{"s":"red1","g":"Susceptible to liquefaction curve(s)","x":0.0562,"y":96.6},
{"s":"red2","g":"Susceptible to liquefaction curve(s)","x":0.793,"y":2.1},{"s":"red2","g":"Susceptible to liquefaction curve(s)","x":0.9945,"y":5.2},{"s":"red2","g":"Susceptible to liquefaction curve(s)","x":1.285,"y":16.7},{"s":"red2","g":"Susceptible to liquefaction curve(s)","x":1.686,"y":35.3},{"s":"red2","g":"Susceptible to liquefaction curve(s)","x":2.02,"y":51.2},{"s":"red2","g":"Susceptible to liquefaction curve(s)","x":2.535,"y":70.4},{"s":"red2","g":"Susceptible to liquefaction curve(s)","x":3.226,"y":85.4},{"s":"red2","g":"Susceptible to liquefaction curve(s)","x":4.045,"y":94.9},{"s":"red2","g":"Susceptible to liquefaction curve(s)","x":4.776,"y":96.5},
{"s":"or1","g":"Particularly susceptible to liquefaction curve(s)","x":0.0345,"y":2.1},{"s":"or1","g":"Particularly susceptible to liquefaction curve(s)","x":0.0406,"y":4.1},{"s":"or1","g":"Particularly susceptible to liquefaction curve(s)","x":0.0465,"y":7.5},{"s":"or1","g":"Particularly susceptible to liquefaction curve(s)","x":0.0595,"y":19.6},{"s":"or1","g":"Particularly susceptible to liquefaction curve(s)","x":0.0796,"y":40.5},{"s":"or1","g":"Particularly susceptible to liquefaction curve(s)","x":0.1003,"y":61.8},{"s":"or1","g":"Particularly susceptible to liquefaction curve(s)","x":0.1207,"y":75},{"s":"or1","g":"Particularly susceptible to liquefaction curve(s)","x":0.149,"y":89},{"s":"or1","g":"Particularly susceptible to liquefaction curve(s)","x":0.171,"y":94.3},{"s":"or1","g":"Particularly susceptible to liquefaction curve(s)","x":0.203,"y":96.6},
{"s":"or2","g":"Particularly susceptible to liquefaction curve(s)","x":0.284,"y":2.4},{"s":"or2","g":"Particularly susceptible to liquefaction curve(s)","x":0.346,"y":5.2},{"s":"or2","g":"Particularly susceptible to liquefaction curve(s)","x":0.427,"y":12.9},{"s":"or2","g":"Particularly susceptible to liquefaction curve(s)","x":0.561,"y":29.1},{"s":"or2","g":"Particularly susceptible to liquefaction curve(s)","x":0.703,"y":47.4},{"s":"or2","g":"Particularly susceptible to liquefaction curve(s)","x":0.817,"y":60},{"s":"or2","g":"Particularly susceptible to liquefaction curve(s)","x":0.921,"y":72},{"s":"or2","g":"Particularly susceptible to liquefaction curve(s)","x":1.04,"y":80.1},{"s":"or2","g":"Particularly susceptible to liquefaction curve(s)","x":1.365,"y":93.7},{"s":"or2","g":"Particularly susceptible to liquefaction curve(s)","x":1.66,"y":96.8}
]
},
"encoding": {
 "x": {"field": "x", "type": "quantitative", "title": "Particle size (mm)",
  "scale": {"type": "log", "domain": [0.00594, 28.9], "nice": false},
  "axis": {"values": [0.006,0.007,0.008,0.009,0.01,0.02,0.03,0.04,0.05,0.06,0.07,0.08,0.09,0.1,0.2,0.3,0.4,0.5,0.6,0.7,0.8,0.9,1,2,3,4,5,6,7,8,9,10,20],
   "labelExpr": "datum.value == 0.01 ? '10⁻²' : datum.value == 0.1 ? '10⁻¹' : datum.value == 1 ? '10⁰' : datum.value == 10 ? '10¹' : ''",
   "labelOverlap": false, "labelFlush": false, "labelPadding": 3, "titlePadding": 6,
   "tickSize": {"condition": {"test": "datum.value == 0.01 || datum.value == 0.1 || datum.value == 1 || datum.value == 10", "value": 5}, "value": 3}}},
 "y": {"field": "y", "type": "quantitative", "title": "Percent passing (%)",
  "scale": {"domain": [-5, 105], "nice": false, "zero": false},
  "axis": {"values": [0,20,40,60,80,100], "tickSize": 5, "labelPadding": 3, "titlePadding": 12}},
 "color": {"field": "g", "type": "nominal", "title": null,
  "scale": {"domain": ["BHSP07","BHSP05","BHSP06","BHSP08","BHSP09","Susceptible to liquefaction curve(s)","Particularly susceptible to liquefaction curve(s)"],
   "range": ["#0000ff","#008000","#ff00ff","#a52a2a","#808080","#ff0000","#ffa500"]},
  "legend": {"symbolType": "M-1,0H3", "symbolSize": 132, "labelOffset": 18}},
 "strokeDash": {"field": "g", "type": "nominal", "title": null,
  "scale": {"domain": ["BHSP07","BHSP05","BHSP06","BHSP08","BHSP09","Susceptible to liquefaction curve(s)","Particularly susceptible to liquefaction curve(s)"],
   "range": [[9.6,2.4,1.5,2.4],[5.5,2.4],[1.5,2.5],[5.5,2.4],[1.5,2.5],[1,0],[1,0]]}},
 "strokeWidth": {"field": "g", "type": "nominal", "title": null,
  "scale": {"type": "ordinal", "domain": ["BHSP07","BHSP05","BHSP06","BHSP08","BHSP09","Susceptible to liquefaction curve(s)","Particularly susceptible to liquefaction curve(s)"],
   "range": [1.5,1.5,1.5,1.5,1.5,3,3]}},
 "detail": {"field": "s", "type": "nominal"}
},
"layer": [
 {"data": {"name": "samples"}, "mark": {"type": "line", "clip": true}},
 {"data": {"name": "curves"}, "mark": {"type": "line", "clip": true}}
]
}
